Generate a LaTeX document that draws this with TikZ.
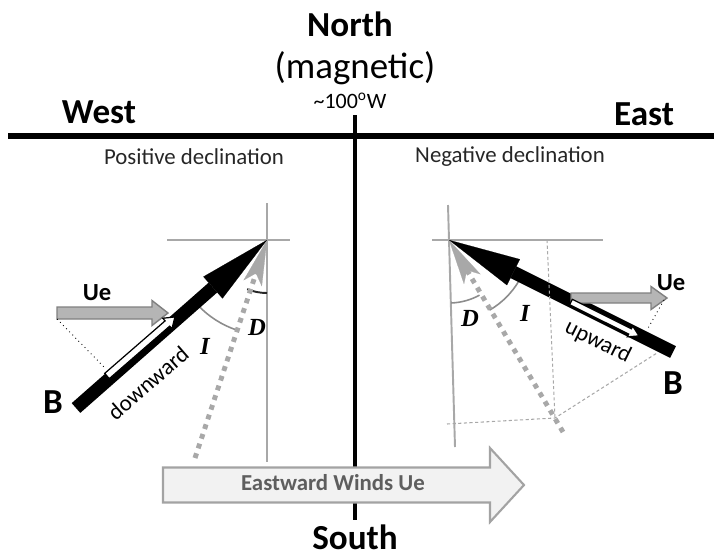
\documentclass[tikz,border=0pt]{standalone}
\usepackage{fontspec}
\usepackage{tikz}
\usetikzlibrary{arrows.meta}
\setmainfont{Carlito}
\newfontfamily\anglefont{Liberation Serif}
\definecolor{crossgray}{HTML}{A8A8A8}
\definecolor{uefill}{HTML}{B5B5B5}
\definecolor{ueedge}{HTML}{808080}
\definecolor{windfill}{HTML}{F2F2F2}
\definecolor{windedge}{HTML}{A3A3A3}
\definecolor{windtext}{HTML}{5E5E5E}
\definecolor{arcgray}{HTML}{8C8C8C}
\tikzset{
  compass/.style={font=\bfseries\fontsize{20}{24}\selectfont, inner sep=0pt},
  caption/.style={font=\fontsize{13}{15}\selectfont, text=black!85},
  ulabel/.style={font=\bfseries\fontsize{14}{16}\selectfont},
  blabel/.style={font=\bfseries\fontsize{20}{24}\selectfont},
  dirlabel/.style={font=\fontsize{13}{15}\selectfont, inner sep=1pt},
  anglabel/.style={font=\anglefont\bfseries\itshape\fontsize{14}{16}\selectfont},
  mainaxis/.style={line width=3.4pt},
  crossline/.style={draw=crossgray, line width=1.1pt},
  helpline/.style={draw=crossgray, line width=0.6pt, dash pattern=on 1.8pt off 1.4pt},
  projline/.style={line width=0.5pt, dotted},
  fieldB/.style={line width=7.4pt, -{Triangle[length=41pt, width=16.5pt, line width=0.1pt]}},
  horizB/.style={draw=crossgray, line width=2.8pt, dash pattern=on 2.8pt off 3pt,
                 -{Stealth[length=26pt, width=11pt, inset=6pt, line width=0.1pt]}},
  uebox/.style={draw=ueedge, fill=uefill, line width=0.8pt},
  whitebox/.style={draw=black, fill=white, line width=0.7pt},
  windbox/.style={draw=windedge, fill=windfill, line width=1.2pt},
  anglearc/.style={draw=arcgray, line width=0.9pt},
}

\begin{document}
\begin{tikzpicture}[x=0.02cm, y=-0.02cm]
  \useasboundingbox (0,0) rectangle (714,556);

  % compass frame
  \coordinate (westend) at (8,136);
  \coordinate (eastend) at (714,136);
  \coordinate (northend) at (355,115);
  \coordinate (southend) at (355,520);
  \draw[mainaxis] (westend) -- (eastend);
  \draw[line width=2.5pt] (northend) -- (southend);

  \node[compass] (north) at (350,24) {North};
  \node[font=\fontsize{21}{25}\selectfont] (magnetic) at (355,68) {(magnetic)};
  \node[font=\fontsize{12.5}{14}\selectfont, inner sep=0pt] (longitude) at (350,101) {\textasciitilde 100\textsuperscript{o}W};
  \node[compass] (west) at (99,112) {West};
  \node[compass] (east) at (644,114) {East};
  \node[caption] (poscap) at (194,157) {Positive declination};
  \node[caption] (negcap) at (510,157) {Negative declination};

  % west panel
  \coordinate (tipW) at (267,240);
  \coordinate (tailBW) at (76,408);
  \coordinate (tailHW) at (195,458);
  \coordinate (crossWl) at (167,240);
  \coordinate (crossWr) at (290,240);
  \coordinate (crossWt) at (267,203);
  \coordinate (crossWb) at (267,462);
  \draw[crossline] (crossWl) -- (crossWr);
  \draw[crossline] (crossWt) -- (crossWb);
  \draw[anglearc] (tipW) ++(109:95) arc[start angle=109, end angle=136, radius=95];
  \draw[draw=black!85, line width=1.1pt] (tipW) ++(90:53) arc[start angle=90, end angle=112, radius=53];
  \draw[horizB] (tailHW) -- (tipW);
  \draw[fieldB] (tailBW) -- (tipW);
  \coordinate (ueW) at (57,313);
  \draw[uebox] (ueW) ++(0,-6) -- ++(95,0) -- ++(0,-6.5) -- ++(16,12.5)
    -- ++(-16,12.5) -- ++(0,-6.5) -- ++(-95,0) -- cycle;
  \begin{scope}[shift={(107,376)}, rotate=41]
    \draw[whitebox] (0,-3.5) -- (80,-3.5) -- (80,-7) -- (90,0) -- (80,7) -- (80,3.5) -- (0,3.5) -- cycle;
  \end{scope}
  \coordinate (ueWfoot) at (57,319);
  \coordinate (downfoot) at (106,369);
  \draw[projline] (ueWfoot) -- (downfoot);
  \node[ulabel] (ueWlabel) at (97,293) {Ue};
  \node[blabel] (bW) at (53,402) {B};
  \node[dirlabel, rotate=41] (downward) at (148,383) {downward};
  \node[anglabel] (dW) at (257,327) {D};
  \node[anglabel] (iW) at (205,346) {I};

  % east panel
  \coordinate (tipE) at (449,240);
  \coordinate (tailBE) at (673,352);
  \coordinate (tailHE) at (563,432);
  \coordinate (crossEl) at (432,240);
  \coordinate (crossEr) at (603,240);
  \coordinate (crossEt) at (448,205);
  \coordinate (crossEb) at (455,447);
  \coordinate (projtop) at (547,240);
  \coordinate (projfoot) at (555,418);
  \coordinate (projleft) at (447,424);
  \coordinate (projB) at (657,353);
  \draw[crossline] (crossEl) -- (crossEr);
  \draw[crossline] (crossEt) -- (crossEb);
  \draw[anglearc] (tipE) ++(61:63) arc[start angle=61, end angle=88, radius=63];
  \draw[anglearc] (tipE) ++(30:81) arc[start angle=30, end angle=60, radius=81];
  \draw[horizB] (tailHE) -- (tipE);
  \draw[fieldB] (tailBE) -- (tipE);
  \draw[helpline] (projtop) -- (projfoot);
  \draw[helpline] (projleft) -- (projfoot) -- (projB);
  \coordinate (ueE) at (571,298);
  \draw[uebox] (ueE) ++(0,-5) -- ++(80,0) -- ++(0,-6.5) -- ++(16,11.5)
    -- ++(-16,11.5) -- ++(0,-6.5) -- ++(-80,0) -- cycle;
  \begin{scope}[shift={(571,302)}, rotate=-26.5]
    \draw[whitebox] (0,-3) -- (66,-3) -- (66,-6) -- (76,0) -- (66,6) -- (66,3) -- (0,3) -- cycle;
  \end{scope}
  \coordinate (ueEtip) at (664,300);
  \coordinate (upfoot) at (647,330);
  \draw[projline] (ueEtip) -- (upfoot);
  \node[ulabel] (ueElabel) at (671,283) {Ue};
  \node[blabel] (bE) at (673,383) {B};
  \node[dirlabel, rotate=-26.5] (upward) at (598,342) {upward};
  \node[anglabel] (dE) at (470,318) {D};
  \node[anglabel] (iE) at (525,313) {I};

  % eastward winds
  \coordinate (windtail) at (163,485);
  \draw[windbox] (windtail) ++(0,-17.5) -- ++(327,0) -- ++(0,-19.5) -- ++(34,37)
    -- ++(-34,37) -- ++(0,-19.5) -- ++(-327,0) -- cycle;
  \node[font=\bfseries\fontsize{13}{15}\selectfont, text=windtext] (winds) at (333,483) {Eastward Winds Ue};
  \node[compass] (south) at (355,537) {South};
\end{tikzpicture}
\end{document}
